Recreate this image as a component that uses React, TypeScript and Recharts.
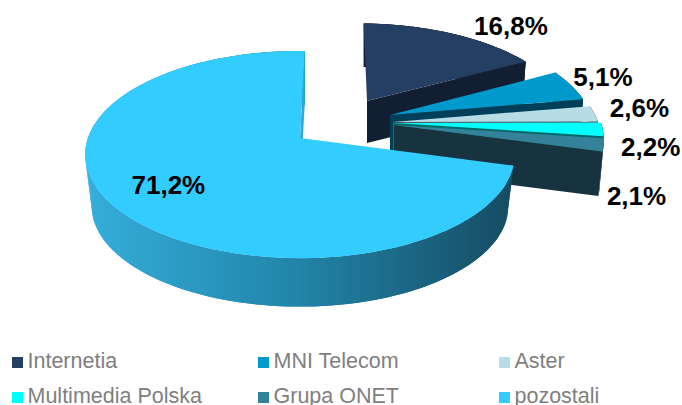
import { Legend, Pie, PieChart } from 'recharts';

const names = ['Internetia', 'MNI Telecom', 'Aster', 'Multimedia Polska', 'Grupa ONET', 'pozostali'];
const shares = [16.8, 5.1, 2.6, 2.2, 2.1, 71.2];
const topColors = ['#243f63', '#0099cc', '#b7dce6', '#00ffff', '#338299', '#33ccff'];
const wallColors = ['#121f33', '#003f59', '#4f5a60', '#006b6b', '#17333f', 'url(#bigWall)'];

const CX = 300;
const CY = 138;
const PERSPECTIVE = 0.16;

// exploded offset and projected size of every slice
const sliceLook = [
  { dx: 67, dy: -37, rx: 198, ry: 90, skew: -9, depth: 42, shrink: 0.98, labelX: 59, labelY: -8 },
  { dx: 90, dy: -23, rx: 201, ry: 97, skew: 0, depth: 44, shrink: 0.98, labelX: 32, labelY: -8 },
  { dx: 93, dy: -16, rx: 205, ry: 97, skew: 0, depth: 44, shrink: 0.98, labelX: 45, labelY: -6 },
  { dx: 94, dy: -15, rx: 207, ry: 97, skew: 0, depth: 44, shrink: 0.98, labelX: 48, labelY: 18 },
  { dx: 94, dy: -13, rx: 207, ry: 97, skew: 0, depth: 45, shrink: 0.98, labelX: 33, labelY: 51 },
  { dx: 0, dy: 0, rx: 212, ry: 101, skew: 0, depth: 52, shrink: 0.97, labelX: 0, labelY: 0 },
];

const project = (i: number, angle: number, low = false) => {
  const look = sliceLook[i];
  const a = (angle * Math.PI) / 180;
  const X = Math.cos(a);
  const Y = Math.sin(a);
  const s = 1 / (1 + PERSPECTIVE * Y);
  const k = low ? look.shrink : 1;
  return {
    x: CX + look.dx + (X * look.rx + Y * look.skew) * s * k,
    y: CY + look.dy + (low ? look.depth : 0) - Y * look.ry * s * k,
  };
};

const apex = (i: number, low = false) => ({
  x: CX + sliceLook[i].dx,
  y: CY + sliceLook[i].dy + (low ? sliceLook[i].depth : 0),
});

const toPath = (pts: { x: number; y: number }[]) =>
  pts.map((p, n) => `${n ? 'L' : 'M'}${p.x.toFixed(2)} ${p.y.toFixed(2)}`).join(' ') + ' Z';

// one slice of the tilted pie: outer wall, cut wall, then the top face
function Slice3D(props: any) {
  const { index, startAngle, endAngle } = props;
  const steps = Math.max(4, Math.ceil(Math.abs(endAngle - startAngle) / 2));
  const angles = Array.from({ length: steps + 1 }, (_, n) => startAngle + ((endAngle - startAngle) * n) / steps);
  const rim = angles.map((a) => project(index, a));
  const rimLow = angles.map((a) => project(index, a, true));
  const wall = wallColors[index];
  const last = rim.length - 1;
  return (
    <g>
      {index === 5 && (
        <defs>
          <linearGradient id="bigWall" gradientUnits="userSpaceOnUse" x1="85" y1="0" x2="512" y2="0">
            <stop offset="0" stopColor="#35aedb" />
            <stop offset="0.5" stopColor="#2184a8" />
            <stop offset="1" stopColor="#164c63" />
          </linearGradient>
        </defs>
      )}
      {/* the quads fill the silhouette at the sides, the band on top hides their seams */}
      {angles.slice(1).map((_, n) => (
        <path key={n} d={toPath([rim[n], rim[n + 1], rimLow[n + 1], rimLow[n]])} fill={wall} />
      ))}
      <path d={toPath([...rim, ...[...rimLow].reverse()])} fill={wall} />
      {/* every slice shows its last cut edge; for the big one that edge faces the notch */}
      <path
        d={toPath([apex(index), rim[last], rimLow[last], apex(index, true)])}
        fill={index === 5 ? '#2fa9d6' : wall}
      />
      <path d={toPath([apex(index), ...rim])} fill={topColors[index]} />
    </g>
  );
}

function sliceLabel(props: any) {
  const { index, midAngle, value } = props;
  const look = sliceLook[index];
  // the big slice carries its label on the face, the others outside the rim
  const inner = index === 5;
  const rim = project(index, midAngle);
  const x = inner ? CX + (rim.x - CX) * 0.7 : rim.x + look.labelX;
  const y = inner ? CY + (rim.y - CY) * 0.71 : rim.y + look.labelY;
  return (
    <text
      key={index}
      x={x}
      y={y}
      textAnchor="middle"
      dominantBaseline="central"
      fontFamily="Liberation Sans"
      fontWeight="bold"
      fontSize={26}
      fill="#000"
    >
      {value.toFixed(1).replace('.', ',')}%
    </text>
  );
}

const legendX = [12, 258, 499];
const legendY = [362, 397];

function LegendBlock({ payload }: any) {
  return (
    <div style={{ position: 'relative', width: 682, height: 405 }}>
      {(payload || []).map((item: any, n: number) => (
        <div key={item.value}>
          <div
            style={{
              position: 'absolute',
              left: legendX[n % 3],
              top: legendY[Math.floor(n / 3)] - 5,
              width: 11,
              height: 11,
              background: item.color,
            }}
          />
          <div
            style={{
              position: 'absolute',
              left: legendX[n % 3] + 15.5,
              top: legendY[Math.floor(n / 3)] - 13,
              fontFamily: 'Liberation Sans',
              fontSize: 21.5,
              lineHeight: '24px',
              color: '#808080',
              whiteSpace: 'nowrap',
            }}
          >
            {item.value}
          </div>
        </div>
      ))}
    </div>
  );
}

const chartData = names.map((name, i) => ({ name, value: shares[i], fill: topColors[i] }));

export default function App() {
  return (
    <div style={{ position: 'absolute', left: 0, top: 0, width: 682, height: 405, overflow: 'hidden' }}>
      <PieChart width={682} height={405} margin={{ top: 0, right: 0, bottom: 0, left: 0 }}>
        <Pie
          data={chartData}
          dataKey="value"
          nameKey="name"
          cx={CX}
          cy={CY}
          outerRadius={100}
          startAngle={88.5}
          endAngle={-271.5}
          stroke="none"
          shape={Slice3D}
          label={sliceLabel}
          labelLine={false}
          isAnimationActive={false}
        />
        <Legend
          content={<LegendBlock />}
          itemSorter={null}
          wrapperStyle={{ position: 'absolute', left: 0, top: 0, width: 682, height: 405 }}
        />
      </PieChart>
    </div>
  );
}
